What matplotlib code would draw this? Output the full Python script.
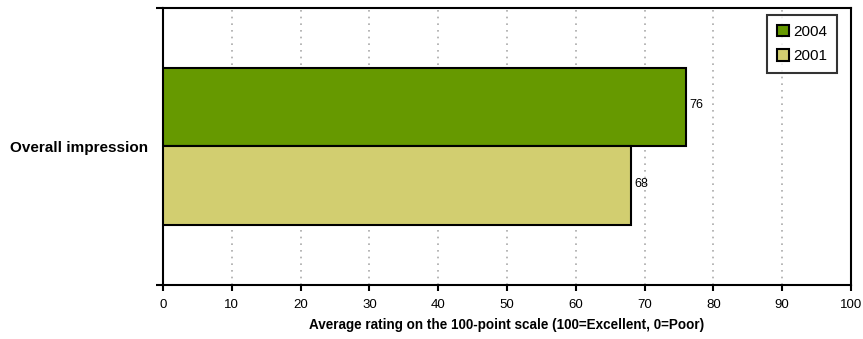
import numpy as np
import matplotlib.pyplot as plt
from matplotlib.patches import Patch

plt.rcParams['font.family'] = ['Liberation Sans', 'DejaVu Sans']

category = ["Overall impression"]
series = ["2004", "2001"]
values_2004 = [76]
values_2001 = [68]
colors = ["#669900", "#D2CE70"]

fig = plt.figure(figsize=(8.63, 3.39), dpi=100)
ax = fig.add_axes([0.1889, 0.159, 0.7972, 0.818])

y = np.arange(len(category))
h = 0.284
b1 = ax.barh(y - h / 2, values_2004, height=h, color=colors[0], edgecolor="black", linewidth=1.5, zorder=3)
b2 = ax.barh(y + h / 2, values_2001, height=h, color=colors[1], edgecolor="black", linewidth=1.5, zorder=3)

# value next to each bar end
for bars, vals in ((b1, values_2004), (b2, values_2001)):
    for bar, v in zip(bars, vals):
        ax.text(v + 0.5, bar.get_y() + bar.get_height() * 0.48, str(v), va="center", ha="left", fontsize=9)

ax.set_xlim(0, 100)
ax.set_ylim(0.5, -0.5)
ax.set_xticks(np.arange(0, 101, 10))
ax.set_yticks(y)
ax.set_yticklabels(category, fontweight="bold", fontsize=11)
ax.set_yticks([-0.5, 0.5], minor=True)
ax.tick_params(axis="y", which="major", length=0, pad=11)
ax.tick_params(axis="y", which="minor", direction="out", length=5, width=1.5)
ax.tick_params(axis="x", direction="out", length=4, width=1.5, labelsize=9.5, pad=6)
ax.set_xlabel("Average rating on the 100-point scale (100=Excellent, 0=Poor)", fontweight="bold", fontsize=9.75)
ax.xaxis.set_label_coords(0.5, -0.118)
ax.xaxis.grid(True, linestyle=(0, (1, 3)), color="#aaaaaa", linewidth=1.2, zorder=0)

for s in ax.spines.values():
    s.set_linewidth(1.5)

handles = [Patch(facecolor=c, edgecolor="black", linewidth=1.5) for c in colors]
leg = ax.legend(handles, series, loc="upper right", fontsize=11, frameon=True, fancybox=False,
                edgecolor="black", handlelength=0.75, handleheight=0.75, handletextpad=0.3,
                borderpad=0.65, labelspacing=0.7, borderaxespad=0, bbox_to_anchor=(0.98, 0.975))
leg.get_frame().set_linewidth(1.5)

fig.savefig("out.png", dpi=100)
